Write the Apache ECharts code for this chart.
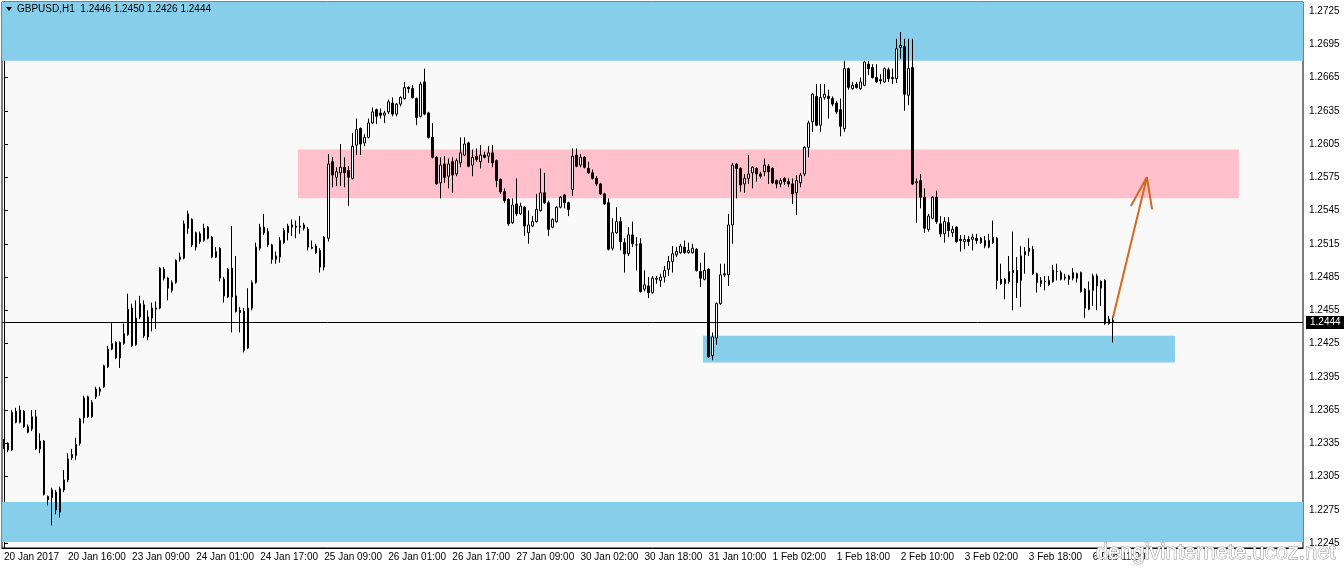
<!DOCTYPE html>
<html><head><meta charset="utf-8">
<script src="https://cdn.jsdelivr.net/npm/echarts@6/dist/echarts.min.js"></script>
<style>html,body{margin:0;padding:0;background:#fff}#c{width:1344px;height:571px}</style>
</head><body><div id="c"></div>
<script>
const symbolTitle = 'GBPUSD,H1  1.2446 1.2450 1.2426 1.2444';
const watermark = 'dengivinternete.ucoz.net';
const timeLabels = ['20 Jan 2017','20 Jan 16:00','23 Jan 09:00','24 Jan 01:00','24 Jan 17:00','25 Jan 09:00','26 Jan 01:00','26 Jan 17:00','27 Jan 09:00','30 Jan 02:00','30 Jan 18:00','31 Jan 10:00','1 Feb 02:00','1 Feb 18:00','2 Feb 10:00','3 Feb 02:00','3 Feb 18:00','6 Feb 11:00'];
const labelStep = 16;
const totalSlots = 325;
const priceTicks = [1.2245,1.2275,1.2305,1.2335,1.2365,1.2395,1.2425,1.2455,1.2485,1.2515,1.2545,1.2575,1.2605,1.2635,1.2665,1.2695,1.2725];
const lastPrice = 1.2444;

const opens = [
1.2332,1.2335,1.2329,1.2364,1.2354,1.2364,1.2350,1.2348,1.2359,1.2330,
1.2337,1.2287,1.2286,1.2291,1.2273,1.2293,1.2302,1.2322,1.2324,1.2335,
1.2358,1.2377,1.2359,1.2377,1.2382,1.2386,1.2404,1.2420,1.2426,1.2412,
1.2425,1.2433,1.2457,1.2424,1.2449,1.2460,1.2431,1.2448,1.2457,1.2457,
1.2492,1.2484,1.2473,1.2480,1.2501,1.2502,1.2529,1.2537,1.2512,1.2524,
1.2518,1.2530,1.2521,1.2503,1.2511,1.2483,1.2467,1.2493,1.2468,1.2455,
1.2454,1.2421,1.2457,1.2480,1.2511,1.2530,1.2526,1.2514,1.2501,1.2503,
1.2516,1.2525,1.2530,1.2531,1.2530,1.2532,1.2528,1.2512,1.2513,1.2509,
1.2494,1.2520,1.2589,1.2575,1.2579,1.2584,1.2581,1.2574,1.2604,1.2619,
1.2606,1.2611,1.2624,1.2636,1.2633,1.2631,1.2634,1.2642,1.2632,1.2641,
1.2646,1.2656,1.2655,1.2646,1.2630,1.2661,1.2633,1.2611,1.2593,1.2570,
1.2587,1.2576,1.2589,1.2578,1.2588,1.2595,1.2606,1.2586,1.2594,1.2589,
1.2595,1.2594,1.2597,1.2590,1.2573,1.2562,1.2555,1.2534,1.2551,1.2542,
1.2548,1.2525,1.2531,1.2535,1.2545,1.2561,1.2552,1.2530,1.2535,1.2548,
1.2559,1.2552,1.2564,1.2595,1.2586,1.2593,1.2583,1.2579,1.2574,1.2569,
1.2560,1.2552,1.2511,1.2525,1.2535,1.2516,1.2506,1.2523,1.2514,1.2515,
1.2474,1.2477,1.2471,1.2483,1.2482,1.2485,1.2492,1.2499,1.2505,1.2507,
1.2512,1.2507,1.2507,1.2510,1.2490,1.2483,1.2492,1.2414,1.2430,1.2461,
1.2487,1.2487,1.2532,1.2587,1.2583,1.2569,1.2574,1.2579,1.2583,1.2578,
1.2580,1.2585,1.2583,1.2572,1.2569,1.2574,1.2571,1.2569,1.2561,1.2570,
1.2578,1.2602,1.2625,1.2648,1.2622,1.2647,1.2648,1.2646,1.2642,1.2636,
1.2619,1.2673,1.2655,1.2659,1.2655,1.2658,1.2677,1.2674,1.2665,1.2663,
1.2661,1.2672,1.2665,1.2664,1.2692,1.2693,1.2649,1.2674,1.2570,1.2572,
1.2557,1.2528,1.2538,1.2557,1.2533,1.2524,1.2534,1.2525,1.2530,1.2519,
1.2517,1.2519,1.2519,1.2520,1.2520,1.2518,1.2512,1.2516,1.2520,1.2483,
1.2479,1.2481,1.2491,1.2491,1.2482,1.2505,1.2508,1.2510,1.2488,1.2479,
1.2481,1.2478,1.2481,1.2490,1.2489,1.2485,1.2486,1.2484,1.2484,1.2489,
1.2474,1.2456,1.2473,1.2486,1.2475,1.2482,1.2443,1.2446];

const highs = [
1.2339,1.2336,1.2365,1.2367,1.2369,1.2365,1.2352,1.2365,1.2365,1.2344,
1.2338,1.2288,1.2295,1.2293,1.2296,1.2311,1.2326,1.2330,1.2340,1.2358,
1.2378,1.2378,1.2374,1.2386,1.2386,1.2406,1.2423,1.2444,1.2427,1.2427,
1.2443,1.2470,1.2461,1.2464,1.2468,1.2464,1.2455,1.2462,1.2463,1.2494,
1.2494,1.2485,1.2482,1.2501,1.2507,1.2536,1.2545,1.2538,1.2526,1.2526,
1.2533,1.2531,1.2522,1.2512,1.2512,1.2485,1.2493,1.2531,1.2504,1.2458,
1.2457,1.2475,1.2482,1.2516,1.2533,1.2542,1.2529,1.2515,1.2508,1.2521,
1.2529,1.2533,1.2537,1.2536,1.2540,1.2534,1.2530,1.2518,1.2515,1.2511,
1.2522,1.2596,1.2593,1.2584,1.2605,1.2593,1.2585,1.2615,1.2628,1.2620,
1.2614,1.2628,1.2638,1.2637,1.2637,1.2635,1.2645,1.2647,1.2642,1.2648,
1.2661,1.2657,1.2658,1.2647,1.2661,1.2673,1.2634,1.2624,1.2594,1.2593,
1.2594,1.2592,1.2593,1.2592,1.2611,1.2611,1.2607,1.2600,1.2601,1.2604,
1.2598,1.2603,1.2604,1.2591,1.2574,1.2565,1.2556,1.2556,1.2574,1.2552,
1.2549,1.2545,1.2540,1.2560,1.2583,1.2579,1.2554,1.2538,1.2549,1.2558,
1.2560,1.2553,1.2601,1.2601,1.2596,1.2594,1.2589,1.2582,1.2576,1.2570,
1.2561,1.2556,1.2538,1.2548,1.2539,1.2520,1.2530,1.2535,1.2521,1.2520,
1.2491,1.2485,1.2486,1.2486,1.2488,1.2495,1.2504,1.2513,1.2512,1.2515,
1.2518,1.2516,1.2515,1.2511,1.2498,1.2507,1.2493,1.2435,1.2462,1.2497,
1.2497,1.2542,1.2588,1.2588,1.2584,1.2578,1.2595,1.2585,1.2584,1.2580,
1.2592,1.2587,1.2584,1.2573,1.2574,1.2575,1.2574,1.2574,1.2577,1.2579,
1.2603,1.2626,1.2651,1.2659,1.2659,1.2659,1.2654,1.2648,1.2644,1.2646,
1.2680,1.2674,1.2661,1.2661,1.2665,1.2680,1.2680,1.2677,1.2677,1.2668,
1.2674,1.2674,1.2673,1.2700,1.2706,1.2700,1.2700,1.2700,1.2574,1.2578,
1.2565,1.2542,1.2558,1.2563,1.2540,1.2539,1.2539,1.2531,1.2531,1.2523,
1.2523,1.2522,1.2524,1.2524,1.2521,1.2522,1.2524,1.2536,1.2521,1.2497,
1.2484,1.2504,1.2526,1.2503,1.2513,1.2512,1.2520,1.2513,1.2489,1.2485,
1.2486,1.2486,1.2496,1.2497,1.2491,1.2488,1.2487,1.2493,1.2489,1.2490,
1.2475,1.2481,1.2488,1.2488,1.2482,1.2483,1.2450,1.2450];

const lows = [
1.2330,1.2327,1.2328,1.2353,1.2353,1.2349,1.2344,1.2346,1.2329,1.2326,
1.2288,1.2279,1.2261,1.2271,1.2268,1.2291,1.2300,1.2320,1.2320,1.2333,
1.2353,1.2358,1.2358,1.2375,1.2378,1.2385,1.2403,1.2419,1.2411,1.2403,
1.2424,1.2432,1.2422,1.2423,1.2447,1.2430,1.2428,1.2436,1.2438,1.2456,
1.2482,1.2464,1.2471,1.2479,1.2499,1.2501,1.2524,1.2512,1.2509,1.2515,
1.2517,1.2519,1.2502,1.2502,1.2481,1.2462,1.2466,1.2435,1.2453,1.2435,
1.2417,1.2420,1.2455,1.2479,1.2509,1.2523,1.2512,1.2497,1.2497,1.2498,
1.2515,1.2518,1.2522,1.2520,1.2524,1.2527,1.2509,1.2510,1.2506,1.2489,
1.2491,1.2517,1.2566,1.2567,1.2567,1.2566,1.2549,1.2573,1.2595,1.2595,
1.2603,1.2610,1.2623,1.2623,1.2628,1.2624,1.2632,1.2630,1.2630,1.2639,
1.2645,1.2651,1.2646,1.2622,1.2629,1.2631,1.2610,1.2592,1.2568,1.2556,
1.2570,1.2565,1.2561,1.2576,1.2584,1.2594,1.2584,1.2576,1.2589,1.2583,
1.2592,1.2588,1.2584,1.2566,1.2560,1.2552,1.2531,1.2533,1.2540,1.2541,
1.2522,1.2515,1.2530,1.2534,1.2544,1.2551,1.2522,1.2529,1.2534,1.2547,
1.2547,1.2540,1.2558,1.2584,1.2584,1.2583,1.2578,1.2573,1.2567,1.2559,
1.2550,1.2509,1.2509,1.2524,1.2509,1.2489,1.2504,1.2512,1.2491,1.2471,
1.2472,1.2466,1.2470,1.2479,1.2476,1.2480,1.2486,1.2489,1.2503,1.2506,
1.2506,1.2506,1.2506,1.2490,1.2476,1.2482,1.2412,1.2410,1.2424,1.2460,
1.2485,1.2477,1.2515,1.2556,1.2562,1.2561,1.2569,1.2565,1.2571,1.2574,
1.2576,1.2569,1.2569,1.2565,1.2566,1.2568,1.2566,1.2551,1.2541,1.2566,
1.2576,1.2593,1.2616,1.2621,1.2616,1.2645,1.2628,1.2639,1.2632,1.2612,
1.2616,1.2654,1.2654,1.2655,1.2654,1.2657,1.2667,1.2664,1.2660,1.2659,
1.2660,1.2661,1.2659,1.2660,1.2682,1.2635,1.2640,1.2568,1.2534,1.2547,
1.2525,1.2526,1.2537,1.2533,1.2521,1.2516,1.2521,1.2521,1.2516,1.2508,
1.2510,1.2513,1.2509,1.2515,1.2515,1.2511,1.2511,1.2515,1.2474,1.2478,
1.2465,1.2479,1.2455,1.2466,1.2458,1.2488,1.2504,1.2487,1.2471,1.2476,
1.2473,1.2477,1.2480,1.2482,1.2482,1.2482,1.2478,1.2482,1.2480,1.2471,
1.2448,1.2455,1.2459,1.2455,1.2459,1.2442,1.2442,1.2426];

const closes = [
1.2337,1.2329,1.2363,1.2354,1.2365,1.2350,1.2345,1.2359,1.2330,1.2337,
1.2289,1.2284,1.2293,1.2275,1.2294,1.2302,1.2321,1.2325,1.2334,1.2357,
1.2376,1.2359,1.2372,1.2384,1.2384,1.2405,1.2420,1.2425,1.2412,1.2426,
1.2434,1.2456,1.2423,1.2448,1.2461,1.2432,1.2449,1.2457,1.2456,1.2493,
1.2484,1.2475,1.2480,1.2500,1.2503,1.2533,1.2542,1.2514,1.2525,1.2517,
1.2529,1.2520,1.2503,1.2508,1.2484,1.2468,1.2492,1.2467,1.2454,1.2453,
1.2419,1.2457,1.2480,1.2512,1.2530,1.2525,1.2514,1.2501,1.2504,1.2518,
1.2527,1.2531,1.2532,1.2530,1.2531,1.2529,1.2512,1.2511,1.2507,1.2494,
1.2521,1.2587,1.2577,1.2580,1.2584,1.2579,1.2575,1.2603,1.2618,1.2605,
1.2611,1.2624,1.2634,1.2630,1.2631,1.2633,1.2643,1.2632,1.2641,1.2647,
1.2656,1.2655,1.2647,1.2629,1.2659,1.2632,1.2611,1.2593,1.2569,1.2586,
1.2575,1.2587,1.2577,1.2590,1.2597,1.2605,1.2585,1.2593,1.2591,1.2595,
1.2593,1.2597,1.2588,1.2572,1.2562,1.2554,1.2533,1.2550,1.2542,1.2549,
1.2531,1.2532,1.2535,1.2546,1.2561,1.2552,1.2528,1.2537,1.2548,1.2557,
1.2552,1.2546,1.2594,1.2585,1.2593,1.2584,1.2579,1.2574,1.2569,1.2560,
1.2551,1.2510,1.2525,1.2535,1.2517,1.2506,1.2523,1.2515,1.2514,1.2472,
1.2478,1.2471,1.2484,1.2484,1.2485,1.2491,1.2499,1.2506,1.2508,1.2513,
1.2507,1.2509,1.2511,1.2491,1.2484,1.2491,1.2413,1.2431,1.2461,1.2487,
1.2488,1.2532,1.2586,1.2583,1.2568,1.2574,1.2578,1.2584,1.2578,1.2576,
1.2586,1.2580,1.2570,1.2569,1.2572,1.2571,1.2569,1.2560,1.2572,1.2577,
1.2602,1.2624,1.2650,1.2622,1.2647,1.2650,1.2646,1.2641,1.2634,1.2621,
1.2673,1.2656,1.2658,1.2656,1.2661,1.2679,1.2673,1.2665,1.2661,1.2662,
1.2673,1.2664,1.2664,1.2691,1.2694,1.2650,1.2673,1.2569,1.2571,1.2557,
1.2529,1.2540,1.2557,1.2535,1.2524,1.2535,1.2527,1.2528,1.2517,1.2518,
1.2519,1.2517,1.2521,1.2518,1.2516,1.2513,1.2518,1.2521,1.2482,1.2479,
1.2483,1.2490,1.2489,1.2480,1.2504,1.2508,1.2511,1.2488,1.2480,1.2482,
1.2481,1.2482,1.2491,1.2490,1.2483,1.2484,1.2483,1.2489,1.2488,1.2472,
1.2457,1.2473,1.2486,1.2477,1.2481,1.2443,1.2447,1.2444];

// zones: [barFrom, barTo, priceLow, priceHigh]
const zoneTopBlue = [-0.5, 324.5, 1.2680, 1.2734];
const zoneBottomBlue = [-0.5, 324.5, 1.2246, 1.2282];
const zonePink = [73.4, 308.5, 1.2556, 1.2600];
const zoneSupport = [174.6, 292.5, 1.2408, 1.2432];
// arrow (bar position, price)
const arrowShaftX = [277.0, 285.5];
const arrowShaftY = [1.2448, 1.2575];
const arrowHeadX = [281.5, 285.5, 286.8];
const arrowHeadY = [1.2549, 1.2575, 1.2546];

const FONT = 'Liberation Sans';
const cats = Array.from({length: totalSlots}, (_, i) => (i % labelStep === 0 && timeLabels[i / labelStep]) ? timeLabels[i / labelStep] : '');
const ohlc = opens.map((o, i) => [o, closes[i], lows[i], highs[i]]);
const pts = (xs, ys) => xs.map((x, i) => [x, ys[i]]);
const area = (z, color) => [{coord: [z[0], z[2]], itemStyle: {color: color}}, {coord: [z[1], z[3]]}];

const chart = echarts.init(document.getElementById('c'));
chart.setOption({
  animation: false,
  backgroundColor: '#ffffff',
  grid: {left: 2, right: 41, top: 2, bottom: 23, show: true, backgroundColor: '#f9f9f9', borderColor: '#000', borderWidth: 1},
  xAxis: [
    {type: 'category', data: cats, boundaryGap: true,
     axisLine: {lineStyle: {color: '#000', width: 1}},
     axisTick: {interval: labelStep - 1, length: 4, alignWithLabel: true, lineStyle: {color: '#000'}},
     axisLabel: {interval: labelStep - 1, align: 'left', margin: 4, fontFamily: FONT, fontSize: 10, color: '#000'},
     splitLine: {show: false}},
    {type: 'value', min: -0.5, max: totalSlots - 0.5, show: false}
  ],
  yAxis: {type: 'value', position: 'right', min: 1.22406, max: 1.27331,
    axisLine: {show: true, lineStyle: {color: '#000'}},
    axisTick: {show: true, length: 4, customValues: priceTicks, lineStyle: {color: '#000'}},
    axisLabel: {customValues: priceTicks, formatter: v => v.toFixed(4), margin: 6, fontFamily: FONT, fontSize: 10, color: '#000'},
    splitLine: {show: false}},
  graphic: [
    {type: 'polygon', shape: {points: [[6, 7], [12, 7], [9, 11]]}, style: {fill: '#000'}, z: 10},
    {type: 'text', left: 17, top: 4, style: {text: symbolTitle, font: '10px ' + FONT, fill: '#000'}, z: 10},
    {type: 'text', right: 8, bottom: 7, style: {text: watermark, font: '22px ' + FONT, fill: '#ffffff', stroke: '#8c8c8c', lineWidth: 1}, z: 20}
  ],
  series: [
    {type: 'line', xAxisIndex: 1, data: [], z: 1, silent: true,
     markArea: {silent: true, data: [area(zoneTopBlue, '#87ceeb'), area(zoneBottomBlue, '#87ceeb'), area(zonePink, '#ffc0cb'), area(zoneSupport, '#87ceeb')]}},
    {type: 'candlestick', data: ohlc, barWidth: 2, z: 3,
     itemStyle: {color: '#ffffff', color0: '#000000', borderColor: '#000000', borderColor0: '#000000', borderColorDoji: '#000000', borderWidth: 1}},
    {type: 'line', xAxisIndex: 1, z: 4, symbol: 'none', silent: true,
     data: [[-0.5, lastPrice], [totalSlots - 0.5, lastPrice]],
     lineStyle: {color: '#000', width: 1},
     endLabel: {show: true, formatter: () => lastPrice.toFixed(4), backgroundColor: '#000', color: '#fff', padding: [2, 4, 1, 4], distance: 3, fontFamily: FONT, fontSize: 10}},
    {type: 'line', xAxisIndex: 1, data: pts(arrowShaftX, arrowShaftY), symbol: 'none', z: 5, lineStyle: {color: '#d2691e', width: 2}},
    {type: 'line', xAxisIndex: 1, data: pts(arrowHeadX, arrowHeadY), symbol: 'none', z: 5, lineStyle: {color: '#d2691e', width: 2}}
  ]
});
</script></body></html>
